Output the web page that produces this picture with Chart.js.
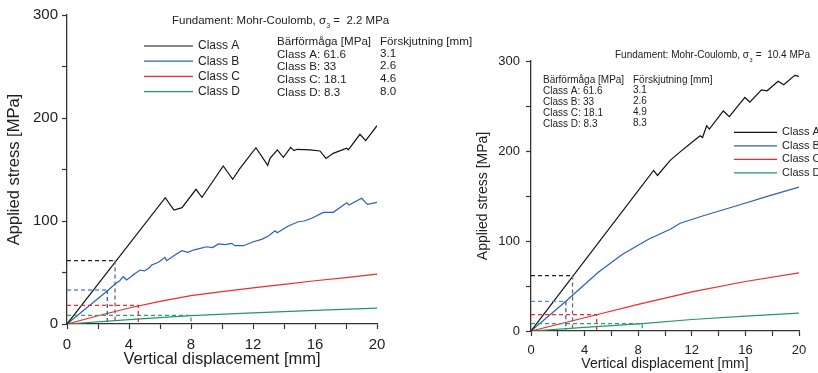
<!DOCTYPE html>
<html>
<head>
<meta charset="utf-8">
<script src="https://cdn.jsdelivr.net/npm/chart.js@4"></script>
<style>
body { margin: 0; background: #fff; }
canvas { position: absolute; top: 0; }
</style>
</head>
<body>
<canvas id="left" width="476" height="373" style="left:0"></canvas>
<canvas id="right" width="358" height="373" style="left:460px"></canvas>
<script>
// ---- data ----
var classNames = ['Class A', 'Class B', 'Class C', 'Class D'];
var capacity = [61.6, 33, 18.1, 8.3];
var capacityLabels = ['61.6', '33', '18.1', '8.3'];
var leftDisp = [3.1, 2.6, 4.6, 8.0];
var leftDispLabels = ['3.1', '2.6', '4.6', '8.0'];
var rightDisp = [3.1, 2.6, 4.9, 8.3];
var rightDispLabels = ['3.1', '2.6', '4.9', '8.3'];
var xTicks = [0, 4, 8, 12, 16, 20];
var yTicks = [0, 100, 200, 300];

// left chart, sigma3 = 2.2 MPa
var leftAx = [0, 6.34, 6.9, 7.42, 8.32, 8.71, 10.08, 10.69, 11.16, 12.19, 12.95, 13.1, 13.57, 13.96, 14.43, 14.65, 14.86, 15.68, 16.32, 16.71, 17.18, 18.04, 18.15, 18.9, 19.27, 20];
var leftAy = [0, 122.6, 110.7, 113, 130.8, 123, 153.4, 140.5, 151, 171.2, 154, 160.8, 169, 161.8, 171.5, 168.3, 169.6, 169, 168, 160.8, 165.7, 170.6, 169, 184.2, 178, 192.5];
var leftBx = [0, 2.67, 3.1, 3.4, 3.63, 3.85, 4.3, 4.71, 5.0, 5.35, 5.46, 5.9, 6.32, 6.43, 6.97, 7.4, 7.8, 8.15, 8.6, 9.01, 9.4, 9.76, 10.2, 10.62, 10.84, 11.38, 12.02, 12.56, 13.0, 13.42, 13.57, 14.28, 14.92, 15.3, 15.79, 16.54, 17.18, 18.04, 18.19, 19.01, 19.38, 20];
var leftBy = [0, 33, 38.8, 42, 45.9, 42.7, 48, 52.4, 51.5, 55, 57.3, 60, 64.7, 61.5, 67, 71.2, 69.5, 71.8, 73.5, 75, 74.2, 77.7, 77, 78.3, 76, 76, 79.9, 82.2, 85.5, 90.6, 88.6, 95.1, 99.3, 100, 102.6, 108.4, 108.4, 117.8, 115.5, 122, 116.2, 118.1];
var leftCx = [0, 2, 4, 6, 8, 10, 12, 14, 16, 18, 20];
var leftCy = [0, 8, 15.5, 22, 27.5, 31.5, 35, 38.5, 42, 45, 48.5];
var leftDx = [0, 4, 8, 12, 16, 20];
var leftDy = [0, 4.3, 8.2, 10.8, 13.2, 15.4];

// right chart, sigma3 = 10.4 MPa
var rightAx = [0, 9.15, 9.44, 10.39, 11.13, 12.2, 12.62, 12.8, 13.11, 13.31, 14.35, 14.8, 15.96, 16.33, 17.2, 17.62, 18.44, 18.86, 19.68, 20];
var rightAy = [0, 178.4, 172.8, 189.6, 199, 212, 216.9, 215, 228.1, 224.3, 244.5, 238.2, 259.5, 254.2, 268, 266.9, 277.4, 273.6, 284.1, 283];
var rightBx = [0, 2.6, 5, 6.8, 8.77, 10.39, 11.13, 12.86, 15.35, 17.82, 20];
var rightBy = [0, 33, 65, 85, 101.9, 113, 119.8, 128, 139.2, 150.4, 160];
var rightCx = [0, 4.9, 8, 12, 16, 20];
var rightCy = [0, 18.1, 29.5, 43.5, 55, 64.5];
var rightDx = [0, 4, 8.3, 12, 16, 20];
var rightDy = [0, 4, 8.3, 12.8, 16.5, 19.8];

var lineColors = ['#111111', '#2d5fb4', '#ef2b2b', '#1f9a62'];
var dashH = ['#222222', '#5b8ad6', '#ef2b2b', '#2aa36d'];
var dashV = ['#6a6a6a', '#2d5fb4', '#ef2b2b', '#2aa36d'];
var FONT = '"Liberation Sans", Arial, sans-serif';

function pts(xs, ys) {
  return xs.map(function (x, i) { return { x: x, y: ys[i] }; });
}

function buildDatasets(series, disp) {
  var sets = [];
  // dashed reading lines first so curves sit on top
  capacity.forEach(function (c, i) {
    sets.push({
      data: [{ x: 0, y: c }, { x: disp[i], y: c }, { x: disp[i], y: 0 }],
      borderWidth: 1.3,
      borderDash: [4, 3],
      borderColor: dashH[i],
      segment: { borderColor: function (s) { return s.p0DataIndex === 1 ? dashV[i] : dashH[i]; } },
      pointRadius: 0
    });
  });
  series.forEach(function (s, i) {
    sets.push({
      label: classNames[i],
      data: pts(s[0], s[1]),
      borderColor: lineColors[i],
      borderWidth: 1.2,
      pointRadius: 0,
      tension: 0
    });
  });
  return sets;
}

function textPlugin(o) {
  return {
    id: 'texts',
    afterDraw: function (chart) {
      var ctx = chart.ctx;
      ctx.save();
      ctx.fillStyle = '#222';
      ctx.textBaseline = 'alphabetic';
      ctx.textAlign = 'left';
      // title with subscript 3
      ctx.font = o.titleSize + 'px ' + FONT;
      var t1 = 'Fundament: Mohr-Coulomb, \u03c3';
      ctx.fillText(t1, o.titleX, o.titleY);
      var w = ctx.measureText(t1).width;
      ctx.font = (o.titleSize * 0.55) + 'px ' + FONT;
      ctx.fillText('3', o.titleX + w + 0.5, o.titleY + 4);
      ctx.font = o.titleSize + 'px ' + FONT;
      ctx.fillText(' =  ' + o.sigma + ' MPa', o.titleX + w + 4, o.titleY);
      // table
      ctx.font = o.tableSize + 'px ' + FONT;
      ctx.fillText('B\u00e4rf\u00f6rm\u00e5ga [MPa]', o.tabX, o.tabY);
      ctx.fillText('F\u00f6rskjutning [mm]', o.tab2X, o.tabY);
      classNames.forEach(function (n, i) {
        ctx.fillText(n + ': ' + capacityLabels[i], o.tabX, o.tabY + o.rowGap * (i + 1) + o.rowShift);
        ctx.fillText(o.dispLabels[i], o.tab2X, o.tabY + o.rowGap * (i + 1) - 1);
      });
      // legend
      ctx.font = o.legSize + 'px ' + FONT;
      ctx.textBaseline = 'middle';
      classNames.forEach(function (n, i) {
        var y = o.legY + o.legGap * i;
        ctx.strokeStyle = lineColors[i];
        ctx.lineWidth = 1.2;
        ctx.beginPath();
        ctx.moveTo(o.legX, y);
        ctx.lineTo(o.legX + o.legLen, y);
        ctx.stroke();
        ctx.fillText(n, o.legX + o.legLen + 5, y);
      });
      ctx.restore();
    }
  };
}

function makeChart(id, series, disp, o) {
  return new Chart(document.getElementById(id), {
    type: 'line',
    data: { datasets: buildDatasets(series, disp) },
    options: {
      responsive: false,
      animation: false,
      layout: { padding: { left: 0, right: o.padRight, top: o.padTop, bottom: 0 } },
      plugins: { legend: { display: false }, tooltip: { enabled: false } },
      scales: {
        x: {
          type: 'linear', min: 0, max: 20,
          afterFit: function (s) { s.height = o.xHeight; },
          border: { color: '#333', width: 1.3 },
          grid: { drawOnChartArea: false, tickLength: 5, tickColor: '#333', tickWidth: 1.2 },
          ticks: {
            stepSize: 2, maxRotation: 0, padding: o.xTickPad, color: '#222',
            font: { size: o.tickSize, family: FONT },
            callback: function (v) { return xTicks.indexOf(v) >= 0 ? String(v) : ''; }
          },
          title: {
            display: true, text: 'Vertical displacement [mm]', color: '#222',
            font: { size: o.axisSize, family: FONT, lineHeight: 1 },
            padding: { top: 0, bottom: o.xTitlePad }
          }
        },
        y: {
          type: 'linear', min: 0, max: 300,
          afterFit: function (s) { s.width = o.yWidth; },
          border: { color: '#333', width: 1.3 },
          grid: { drawOnChartArea: false, tickLength: 5, tickColor: '#333', tickWidth: 1.2 },
          ticks: {
            stepSize: 50, padding: o.yTickPad, color: '#222',
            font: { size: o.tickSize, family: FONT },
            callback: function (v) { return yTicks.indexOf(v) >= 0 ? String(v) : ''; }
          },
          title: {
            display: true, text: 'Applied stress [MPa]', color: '#222',
            font: { size: o.axisSize, family: FONT, lineHeight: 1 },
            padding: { top: o.yTitlePad, bottom: 0 }
          }
        }
      }
    },
    plugins: [textPlugin(o)]
  });
}

makeChart('left',
  [[leftAx, leftAy], [leftBx, leftBy], [leftCx, leftCy], [leftDx, leftDy]],
  leftDisp,
  {
    padRight: 99, padTop: 15, xHeight: 49, yWidth: 67,
    tickSize: 15, axisSize: 16.5, xTickPad: 7, yTickPad: 4,
    xTitlePad: 5, yTitlePad: 6,
    titleSize: 11.5, titleX: 172, titleY: 24, sigma: '2.2',
    tableSize: 11.6, tabX: 277, tab2X: 380, tabY: 45, rowGap: 12.7, rowShift: 0,
    dispLabels: leftDispLabels,
    legSize: 12, legX: 144, legLen: 49, legY: 46, legGap: 15.2
  });

makeChart('right',
  [[rightAx, rightAy], [rightBx, rightBy], [rightCx, rightCy], [rightDx, rightDy]],
  rightDisp,
  {
    padRight: 19, padTop: 61, xHeight: 42, yWidth: 71,
    tickSize: 13, axisSize: 14, xTickPad: 7, yTickPad: 6,
    xTitlePad: 2, yTitlePad: 16,
    titleSize: 10, titleX: 155, titleY: 58, sigma: '10.4',
    tableSize: 10, tabX: 83, tab2X: 173, tabY: 82.5, rowGap: 11, rowShift: 0.8,
    dispLabels: rightDispLabels,
    legSize: 11, legX: 274, legLen: 43, legY: 132.3, legGap: 13.5
  });
</script>
</body>
</html>
